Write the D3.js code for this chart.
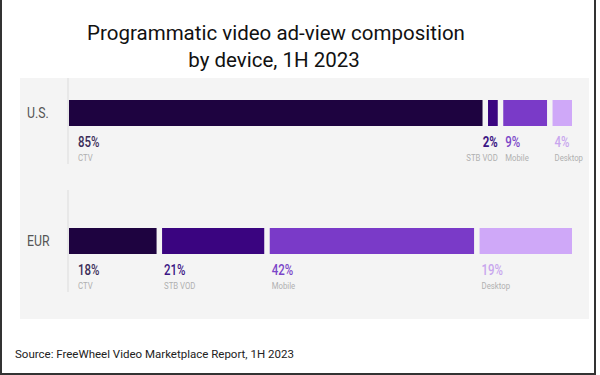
<!DOCTYPE html>
<html>
<head>
<meta charset="utf-8">
<script src="https://cdn.jsdelivr.net/npm/d3@7"></script>
<style>
  body { margin: 0; background: #fff; }
  svg { display: block; }
</style>
</head>
<body>
<div id="chart"></div>
<script>
// data
const regions = ['U.S.', 'EUR']
const devices = ['CTV', 'STB VOD', 'Mobile', 'Desktop']
const usShares = [85, 2, 9, 4]
const eurShares = [18, 21, 42, 19]
const deviceColors = ['#1e0340', '#3a0480', '#7a3ac8', '#cfa8f8']
const labelColors = ['#3b2d58', '#3b1584', '#7b46c8', '#c8a6ee']

const shares = { 'U.S.': usShares, 'EUR': eurShares }

const W = 600, H = 375
const gap = 5.5
const narrow = 0.82   // the labels use a condensed face

var svg = d3.select('#chart')
    .append('svg')
    .attr('width', W)
    .attr('height', H)

svg.append('rect')
    .attr('x', 0).attr('y', 0).attr('width', W).attr('height', H)
    .attr('fill', '#fff')
// frame of the screenshot
svg.append('path')
    .attr('d', 'M1,0 V374 H595 V0')
    .attr('fill', 'none')
    .attr('stroke', '#333')
    .attr('stroke-width', 2)

// title
var title = svg.append('text')
    .attr('text-anchor', 'middle')
    .attr('font-family', 'Roboto')
    .attr('font-size', 20.5)
    .attr('fill', '#111')
title.append('tspan').attr('x', 276).attr('y', 40).text('Programmatic video ad-view composition')
title.append('tspan').attr('x', 274).attr('y', 67).text('by device, 1H 2023')

// grey panel
svg.append('rect')
    .attr('x', 20).attr('y', 78)
    .attr('width', 569).attr('height', 241)
    .attr('fill', '#f4f4f4')

var x = d3.scaleLinear()
    .domain([0, 100])
    .range([69, 572 - gap * (devices.length - 1)])

var y = d3.scalePoint()
    .domain(regions)
    .range([113, 241])

const barH = 26

// vertical axis pieces
svg.selectAll('.axis-line')
    .data(regions)
    .enter()
    .append('line')
    .attr('class', 'axis-line')
    .attr('x1', 68).attr('x2', 68)
    .attr('y1', d => Math.max(78, y(d) - 51))
    .attr('y2', d => y(d) + 51)
    .attr('stroke', '#e0e0e0')
    .attr('stroke-width', 1.2)

svg.selectAll('.region-label')
    .data(regions)
    .enter()
    .append('text')
    .attr('class', 'region-label')
    .attr('transform', d => `translate(27,${y(d) + 5}) scale(${narrow},1)`)
    .attr('font-family', 'Roboto')
    .attr('font-size', 15)
    .attr('fill', '#555')
    .text(d => d)

regions.forEach(r => {
    let cum = 0
    let segs = shares[r].map((v, i) => {
        let s = { device: devices[i], value: v, i: i,
                  x0: x(cum) + i * gap, x1: x(cum + v) + i * gap }
        cum += v
        return s
    })

    var g = svg.append('g')

    g.selectAll('rect')
        .data(segs)
        .enter()
        .append('rect')
        .attr('x', d => d.x0)
        .attr('y', y(r) - barH / 2)
        .attr('width', d => d.x1 - d.x0)
        .attr('height', barH)
        .attr('fill', d => deviceColors[d.i])

    // narrow segments that are followed by another one get right aligned labels
    const anchor = d => (d.x1 - d.x0 < 20 && d.i < segs.length - 1) ? 'end' : 'start'
    const lx = d => anchor(d) === 'end' ? d.x1 : d.x0 + (d.i === 0 ? 9 : 2)

    g.selectAll('.pct')
        .data(segs)
        .enter()
        .append('text')
        .attr('class', 'pct')
        .attr('transform', d => `translate(${lx(d)},${y(r) + barH / 2 + 21}) scale(${narrow},1)`)
        .attr('text-anchor', anchor)
        .attr('font-family', 'Roboto')
        .attr('font-size', 14)
        .attr('font-weight', d => d.value < 5 && d.i === 1 ? 'bold' : 500)
        .attr('fill', d => labelColors[d.i])
        .text(d => d.value + '%')

    g.selectAll('.dev')
        .data(segs)
        .enter()
        .append('text')
        .attr('class', 'dev')
        .attr('transform', d => `translate(${lx(d)},${y(r) + barH / 2 + 35}) scale(${narrow},1)`)
        .attr('text-anchor', anchor)
        .attr('font-family', 'Roboto')
        .attr('font-size', 9.5)
        .attr('fill', '#b0b0b0')
        .text(d => d.device)
})

// source
svg.append('text')
    .attr('x', 15)
    .attr('y', 358)
    .attr('font-family', 'Roboto')
    .attr('font-size', 11.5)
    .attr('fill', '#222')
    .text('Source: FreeWheel Video Marketplace Report, 1H 2023')
</script>
</body>
</html>
